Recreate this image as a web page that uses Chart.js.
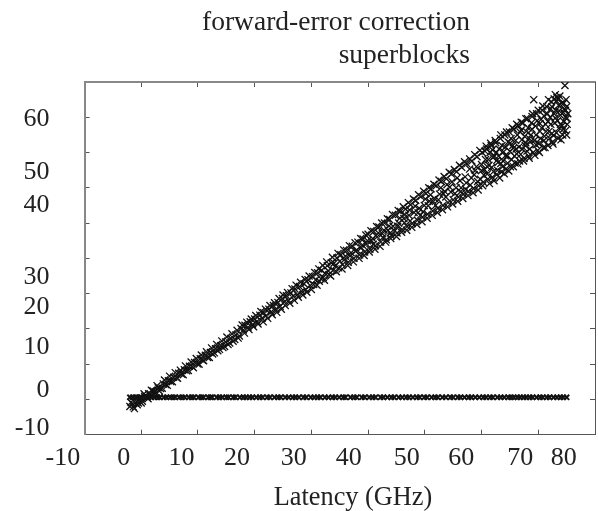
<!DOCTYPE html>
<html>
<head>
<meta charset="utf-8">
<title>forward-error correction superblocks</title>
<script src="https://cdn.jsdelivr.net/npm/chart.js@4"></script>
<style>
    html, body { margin: 0; padding: 0; background: #fff; }
    #wrap { width: 598px; height: 511px; }
</style>
</head>
<body>
<div id="wrap"><canvas id="myChart"></canvas></div>
<script>
const titleLines = ["forward-error correction", "superblocks"];
const xTitle = "Latency (GHz)";

/* the printed labels do not sit on the tick marks, so they get their own axis values */
const xTickLabels = ["-10", "0", "10", "20", "30", "40", "50", "60", "70", "80"];
const xTickLabelAt = [-13.8, -3.1, 7.1, 16.9, 26.9, 36.6, 46.8, 56.4, 66.8, 74.5];
const yTickLabels = ["-10", "0", "10", "20", "30", "40", "50", "60"];
const yTickLabelAt = [-8.2, 2.5, 14.7, 26.2, 34.7, 55, 64.4, 79.4];

/* diagonal cloud */
const diagX = [
    -2, -1.6, -1.4, -1, -0.7, -0.4, 0, 0.2, 0.6, 1, 1.3, 1.7, 2.1, 2.5, 3, 3.4, 3.9, 4.3, 4.8, 5.2,
    5.7, 6.2, 6.6, 7.1, 7.6, 8, 8.5, 9, 9.4, 9.9, 10.4, 10.8, 11.3, 11.7, 12.2, 12.6, 13.1, 13.5, 14, 14.4,
    14.9, 15.3, 15.8, 16.2, 16.7, 17.1, 17.6, 18, 18.3, 18.8, 19.2, 19.6, 20, 20.4, 20.9, 21.3, 21.6, 22, 22.5, 22.9,
    23.3, 23.7, 24.1, 24.5, 24.9, 25.2, 25.6, 26, 26.4, 26.8, 27.1, 27.5, 27.9, 28.3, 28.7, 29, 29.4, 29.8,
    30.2, 30.4, 30.8, 31.1, 31.4, 31.8, 32.1, 32.4, 32.8, 33.1, 33.5, 33.8, 34.2, 34.5, 34.8, 35.2, 35.5, 35.8, 36.2, 36.5,
    36.8, 37.2, 37.5, 37.8, 38.2, 38.5, 38.8, 39.1, 39.4, 39.7, 40, 40.3, 40.6, 41, 41.3, 41.6, 41.9, 42.2, 42.5, 42.9,
    43.2, 43.5, 43.8, 44.1, 44.4, 44.8, 45.1, 45.4, 45.7, 46, 46.3, 46.6, 46.9, 47.2, 47.5, 47.8, 48.1, 48.4, 48.7, 49,
    49.3, 49.6, 49.9, 50.2, 50.5, 50.8, 51.1, 51.4, 51.7, 52, 52.3, 52.6, 52.9, 53.2, 53.5, 53.8, 54.1, 54.4, 54.7, 55,
    55.3, 55.6, 55.9, 56.2, 56.5, 56.8, 57.1, 57.4, 57.7, 58, 58.3, 58.6, 58.9, 59.2, 59.5, 59.8, 60.1, 60.3, 60.5, 60.7,
    60.9, 61.1, 61.3, 61.5, 61.7, 61.9, 62.1, 62.3, 62.5, 62.7, 62.9, 63.1, 63.3, 63.5, 63.7, 63.9, 64.1, 64.3, 64.5, 64.7,
    64.9, 65.1, 65.3, 65.5, 65.7, 65.9, 66.1, 66.3, 66.5, 66.7, 66.9, 67.1, 67.3, 67.5, 67.7, 67.9, 68.1, 68.3, 68.5, 68.7,
    68.9, 69.1, 69.2, 69.3, 69.5, 69.7, 69.9, 70.1, 70.3, 70.5, 70.7, 70.9, 71.1, 71.3, 71.5, 71.7, 71.9, 72.1, 72.3, 72.5,
    72.7, 72.9, 73.1, 73.3, 73.5, 73.7, 73.9, 74.1, 74.3, 74.5, 74.6, 74.7, 74.8, 74.9, 75
];
const diagY = [
    -2, -1.2, -2.1, -0.9, -1.5, -0.2, 0.4, -0.5, 0.9, 0.7, 1.6, 1.4, 2.4, 2.2, 3.3, 3.1, 4.4, 4.2, 5.3, 5.1,
    6.3, 6.2, 7.4, 7.2, 8.4, 8.1, 9.4, 9.3, 10.5, 10.1, 11.5, 11.2, 12.5, 11.9, 13.3, 12.9, 14.4, 13.8, 15.2, 14.7,
    16.3, 15.6, 17.3, 16.5, 18.3, 17.4, 20.1, 19.7, 21, 20.4, 22, 21.2, 22.8, 22.1, 23.9, 23, 24.6, 23.7, 25.6, 24.8,
    26.6, 25.5, 27.5, 26.4, 28.6, 27.6, 29.4, 28.1, 30.2, 29.3, 31.3, 29.7, 32, 30.6, 32.8, 31.2, 33.9, 32.3,
    34.8, 32.6, 33.9, 35.9, 33.5, 36.6, 34.6, 35.8, 37.9, 35.4, 38.7, 36.6, 37.8, 40.1, 37.3, 41, 38.2, 39.6, 42.2, 38.9,
    40.7, 43.4, 40, 42, 44.6, 41, 43, 45.5, 41.8, 44.1, 46.8, 42.6, 45, 47.6, 43.6, 46.1, 48.9, 44.6, 47, 50,
    45.3, 48, 51, 46.4, 49.1, 52.2, 47.2, 50, 53.3, 48.2, 51.3, 54, 49, 52.2, 55.2, 49.9, 53, 56.4, 50.8, 54.2,
    57.5, 51.7, 55, 58.4, 52.5, 56.2, 59.7, 53.4, 57, 60.6, 54.2, 58.2, 61.8, 55, 59, 62.6, 55.8, 60.2, 63.9, 56.6,
    58.4, 64.6, 57.4, 62, 65.8, 58.2, 63.1, 66.8, 59, 60.8, 67.6, 59.8, 64.9, 68.8, 60.6, 62.4, 70, 61.6, 65.2, 68,
    71, 62.4, 66.4, 70, 72, 63, 64.6, 69, 72.8, 63.8, 67.2, 71, 74, 64.5, 66, 70.2, 75, 65.3, 69, 73,
    75.8, 66, 68, 72, 76.6, 67, 71, 75, 77.6, 67.6, 69.5, 73.6, 78.4, 68.4, 72, 76, 79.6, 69, 71, 75,
    80.2, 70, 85, 73.4, 77.5, 81, 70.6, 72.5, 76, 79.4, 82, 71.4, 74.6, 78, 83, 72, 76, 80, 84.4, 73,
    74.8, 78.4, 82, 85.6, 74, 77, 80.6, 84, 75, 78.8, 82.4, 89, 76.2, 80, 83
];

/* second pass over the same cloud, the marks overlap heavily */
const diagX2 = [
    -1.8, -1.2, -0.5, 0, 0.5, 1.2, 1.8, 2.3, 2.8, 3.2, 3.7, 4.1, 4.6, 5, 5.5, 6, 6.4, 6.9, 7.4, 7.8,
    8.3, 8.8, 9.2, 9.7, 10.2, 10.6, 11, 11.5, 12, 12.4, 12.9, 13.3, 13.8, 14.2, 14.7, 15.1, 15.6, 16, 16.5, 16.9,
    17.3, 17.8, 18.2, 18.6, 19, 19.4, 19.8, 20.2, 20.6, 21.1, 21.5, 21.9, 22.3, 22.7, 23.1, 23.5, 23.9, 24.3, 24.7, 25,
    25.4, 25.8, 26.2, 26.6, 27, 27.3, 27.7, 28.1, 28.5, 28.9, 29.2, 29.6, 30, 30.6, 31, 31.3, 31.7, 32, 32.3, 32.7,
    33, 33.4, 33.7, 34, 34.4, 34.7, 35, 35.4, 35.7, 36, 36.4, 36.7, 37, 37.4, 37.7, 38, 38.4, 38.7, 39, 39.3,
    39.6, 39.9, 40.2, 40.5, 40.9, 41.2, 41.5, 41.8, 42.1, 42.4, 42.8, 43.1, 43.4, 43.7, 44, 44.3, 44.7, 45, 45.3, 45.6,
    45.9, 46.2, 46.5, 46.8, 47.1, 47.4, 47.7, 48, 48.3, 48.6, 48.9, 49.2, 49.5, 49.8, 50.1, 50.4, 50.7, 51, 51.3, 51.6,
    51.9, 52.2, 52.5, 52.8, 53.1, 53.4, 53.7, 54, 54.3, 54.6, 54.9, 55.2, 55.5, 55.8, 56.1, 56.4, 56.7, 57, 57.3, 57.6,
    57.9, 58.2, 58.5, 58.8, 59.1, 59.4, 59.7, 60, 60.2, 60.4, 60.6, 60.8, 61, 61.2, 61.4, 61.6, 61.8, 62, 62.2, 62.4,
    62.6, 62.8, 63, 63.2, 63.4, 63.6, 63.8, 64, 64.2, 64.4, 64.6, 64.8, 65, 65.2, 65.4, 65.6, 65.8, 66, 66.2, 66.4,
    66.6, 66.8, 67, 67.2, 67.4, 67.6, 67.8, 68, 68.2, 68.4, 68.6, 68.8, 69, 69.4, 69.6, 69.8, 70, 70.2, 70.4, 70.6,
    70.8, 71, 71.2, 71.4, 71.6, 71.8, 72, 72.2, 72.4, 72.6, 72.8, 73, 73.2, 73.4, 73.6, 73.8, 74, 74.2, 74.4, 74.9,
    75, 75.1, 75.2, 74.5
];
const diagY2 = [
    -0.8, -2.6, -1, -1, 1.6, 0.2, 2.6, 1.4, 3.9, 2.4, 3.2, 5.5, 4, 6.6, 5, 7.6, 6, 8.3, 7, 9.5,
    8.2, 10.6, 9, 11.6, 10, 12.6, 11, 13.5, 11.9, 14.6, 13.2, 15.6, 14.2, 16.6, 15, 17.7, 16, 18.6, 17, 19.6,
    18, 21.1, 18.8, 21.9, 19.8, 22.8, 20.6, 23.8, 21.4, 24.9, 22, 25.6, 23, 26.6, 24, 27.4, 24.7, 28.6, 25.6, 29.6,
    26.6, 30.3, 27.3, 31.4, 28.1, 32.4, 29, 33.2, 29.6, 34, 30.4, 35, 31.2, 36, 32.4, 37, 34.2, 38, 33.8, 39,
    36.4, 35, 40.3, 38.6, 36.2, 41.4, 39.2, 37, 42.4, 40.6, 38, 43.6, 41.6, 39, 44.4, 42.4, 40, 45.6, 43.8, 40.8,
    46.6, 45, 41.8, 47.8, 44, 42.6, 49, 47.2, 43.4, 50, 48, 44.6, 51.2, 49.2, 45.6, 52.4, 47.8, 46.2, 53.6, 51.4,
    47.4, 54.6, 52.4, 48, 55.8, 50.6, 48.8, 56.8, 54.8, 49.6, 58, 52.2, 50.4, 59, 56.8, 51.4, 60, 58, 52.2, 61,
    55, 53, 62.2, 60, 53.8, 63.2, 57.4, 54.6, 64.4, 58.8, 55.4, 65.2, 60, 56.2, 66.4, 60, 57, 67.4, 61.4, 57.8,
    68.2, 62.8, 58.6, 69.4, 66, 59.4, 70.6, 66.6, 60.6, 63.6, 70.4, 71.8, 66, 68, 61.2, 72.6, 65.8, 68.6, 62, 73.4,
    70, 65, 69, 62.8, 75, 72, 67.6, 64, 71.6, 75.8, 67, 64.8, 70.4, 74, 77, 66, 69, 73.4, 78, 66.8,
    71.6, 75.8, 78.6, 71, 67.6, 74.6, 79.6, 70.4, 77, 68.4, 73, 78.4, 81, 69.2, 75, 79, 82, 70, 74, 77,
    83.2, 80.4, 71.4, 76, 81, 85, 74, 78, 83, 72.4, 81, 86.4, 75.6, 79, 83.4, 86, 73.6, 77.6, 81.4, 85,
    75, 78, 81, 84
];

/* marks inside the wide end of the cloud */
const diagX3 = [
    40.8, 42.6, 43.9, 45.2, 46.4, 47.3, 48.8, 49.7, 50.6, 51.5,
    52.4, 53.3, 53.9, 54.8, 55.7, 56.3, 57.2, 57.9, 58.7, 59.3,
    60, 61, 61.9, 62.7, 63.4, 64.2, 65, 65.6, 66.2, 67,
    67.8, 68.4, 68.9, 69.6, 70.3, 71, 71.7, 72.4, 73, 73.7,
    74.4, 75, 74.8, 73.9, 72.2, 72.8, 73.2, 73.6
];
const diagY3 = [
    45.6, 45.9, 47.2, 49.1, 50.1, 53.7, 52.9, 53.2, 54.9, 56.1,
    56.6, 58.3, 60.9, 61.7, 62.8, 58.9, 59.6, 65.3, 63.7, 61.8,
    64.9, 63.9, 70.8, 67.8, 66.9, 69.1, 72.6, 71.2, 69.6, 76.4,
    72.8, 74, 76.6, 72.2, 78.2, 73.4, 78.8, 75.4, 79.8, 81.8,
    76.6, 79.6, 82, 78, 82.4, 85.2, 84.6, 85.2
];

/* flat row just above zero */
const flatY = 0.6;
const flatX = [
    -2, -1.5, -1, -0.6, -0.1, 0.4, 0.9, 1.3, 1.8, 2.4, 2.9, 3.3, 4, 4.5, 5.1, 5.6, 6, 6.7, 7.2, 7.7,
    8.4, 8.9, 9.3, 10.1, 10.6, 11, 11.8, 12.2, 12.5, 13.3, 13.8, 14.3, 15, 15.4, 16.2, 16.6, 17.4, 18, 18.5, 19.1,
    19.6, 20.3, 20.9, 21.4, 22.2, 22.7, 23.5, 24.1, 24.6, 25.4, 26, 26.7, 27.2, 27.8, 28.6, 29.1, 29.9, 30.5, 31.1, 31.6,
    32.4, 33, 33.7, 34.2, 34.9, 35.6, 36, 36.9, 37.5, 38, 38.9, 39.4, 40.2, 40.8, 41.3, 42.2, 42.7, 43.4, 44.1, 44.6,
    45.4, 46, 46.7, 47.2, 47.9, 48.6, 49.1, 49.9, 50.4, 51.2, 51.8, 52.3, 53.1, 53.7, 54.5, 55, 55.8, 56.3, 57, 57.7,
    58.2, 58.9, 59.6, 60.3, 60.8, 61.5, 62, 62.8, 63.4, 64, 64.7, 65.2, 65.7, 66.3, 66.8, 67.4, 67.9, 68.5, 69, 69.7,
    70.3, 70.8, 71.5, 72, 72.7, 73.3, 73.9, 74.4, 75
];

const makePoints = (xs, ys) => xs.map((x, i) => ({ x: x, y: ys[i] }));
const serifFamily = "'Liberation Serif', serif";

/* inward tick marks on all four sides, labels left to the label axes */
const frameAxis = (position, min, max, borderColor, borderWidth) => ({
    type: 'linear',
    position: position,
    min: min,
    max: max,
    ticks: { display: false, stepSize: 10 },
    grid: { drawOnChartArea: false, tickLength: -5, color: '#555', tickWidth: 1 },
    border: { color: borderColor, width: borderWidth },
    afterFit: (scale) => {
        if (position === 'top' || position === 'bottom') scale.height = 0;
        else scale.width = 0;
    }
});

/* moves a title box so its right edge or centre lands where the reference has it */
const placeTitles = {
    id: 'placeTitles',
    afterLayout(chart) {
        chart.boxes.forEach((box) => {
            if (!box.options || box.options.text === undefined) return;
            if (box.options.text === xTitle) {
                box.left = 0;
                box.right = 706;
            } else if (box.options.text === titleLines) {
                box.right = 470;
            }
        });
    }
};

new Chart(document.querySelector("#myChart"), {
    type: 'scatter',
    plugins: [placeTitles],
    data: {
        datasets: [
            {
                data: makePoints(diagX, diagY).concat(makePoints(diagX2, diagY2), makePoints(diagX3, diagY3)),
                pointStyle: 'crossRot',
                pointRadius: 5,
                borderColor: '#111',
                borderWidth: 1.3,
                xAxisID: 'x',
                yAxisID: 'y'
            },
            {
                data: makePoints(flatX, flatX.map(() => flatY)),
                pointStyle: 'crossRot',
                pointRadius: 3.6,
                borderColor: '#111',
                borderWidth: 2,
                xAxisID: 'x',
                yAxisID: 'y'
            }
        ]
    },
    options: {
        responsive: true,
        maintainAspectRatio: false,
        animation: false,
        layout: { autoPadding: false, padding: { left: 0, right: 3, top: 0, bottom: 0 } },
        plugins: {
            legend: { display: false },
            tooltip: { enabled: false },
            title: {
                display: true,
                text: titleLines,
                align: 'end',
                color: '#222',
                font: { family: serifFamily, size: 27.5, weight: 'normal', lineHeight: 1.2 },
                padding: { top: 6, bottom: 10 }
            },
            subtitle: {
                display: true,
                position: 'bottom',
                text: xTitle,
                align: 'center',
                color: '#222',
                font: { family: serifFamily, size: 26.3, weight: 'normal', lineHeight: 1 },
                padding: { top: 2, bottom: 0 }
            }
        },
        scales: {
            x: frameAxis('bottom', -10, 80, '#555', 1),
            xTop: frameAxis('top', -10, 80, '#888', 2),
            y: frameAxis('left', -10, 90, '#888', 2),
            yRight: frameAxis('right', -10, 90, '#555', 1),
            xLabels: {
                type: 'linear',
                position: 'bottom',
                min: -10,
                max: 80,
                grid: { display: false, drawTicks: false },
                border: { display: false },
                ticks: {
                    autoSkip: false,
                    maxRotation: 0,
                    padding: 8,
                    color: '#222',
                    font: { family: serifFamily, size: 26 },
                    callback: (value, index) => xTickLabels[index]
                },
                afterBuildTicks: (scale) => {
                    scale.ticks = xTickLabelAt.map((v) => ({ value: v }));
                },
                afterFit: (scale) => {
                    scale.height = 48;
                    scale.paddingLeft = 0;
                    scale.paddingRight = 0;
                }
            },
            yLabels: {
                type: 'linear',
                position: 'left',
                min: -10,
                max: 90,
                grid: { display: false, drawTicks: false },
                border: { display: false },
                ticks: {
                    autoSkip: false,
                    padding: 35,
                    color: '#222',
                    font: { family: serifFamily, size: 26 },
                    callback: (value, index) => yTickLabels[index]
                },
                afterBuildTicks: (scale) => {
                    scale.ticks = yTickLabelAt.map((v) => ({ value: v }));
                },
                afterFit: (scale) => {
                    scale.width = 84.5;
                    scale.paddingTop = 0;
                    scale.paddingBottom = 0;
                }
            }
        }
    }
});
</script>
</body>
</html>
